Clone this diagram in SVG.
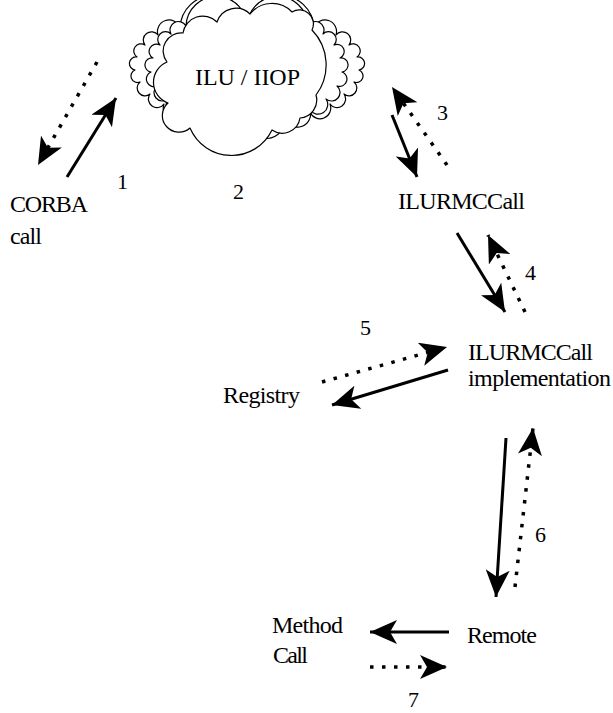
<svg xmlns="http://www.w3.org/2000/svg" width="613" height="713" viewBox="0 0 613 713">
<style>
.lbl{font-size:24px}
.num{font-size:22px}
.cl{fill:#fff;stroke:#000;stroke-width:1.2;stroke-linejoin:round}
.sol{stroke:#000;stroke-width:3;fill:none;marker-end:url(#ah)}
.dot{stroke:#000;stroke-width:3.5;fill:none;stroke-dasharray:3.5 8.5;marker-end:url(#ah)}
</style>
<defs>
<marker id="ah" viewBox="0 0 28 24" refX="27" refY="12" markerWidth="28" markerHeight="24" markerUnits="userSpaceOnUse" orient="auto">
<path d="M0,0 L27,12 L0,24 L7,12 Z" fill="#000"/>
</marker>
</defs>
<rect width="613" height="713" fill="#fff"/>
<g font-family="'Liberation Serif', Tinos, 'Nimbus Roman', 'Nimbus Roman No9 L', FreeSerif, 'Noto Serif', 'DejaVu Serif', Times, serif" fill="#000">
<g id="cloud">
<path class="cl" d="M359,70 A1 1 0 0 1 354,82 A1 1 0 0 1 344,94 A1 1 0 0 1 330,104 A1 1 0 0 1 310,112 A1 1 0 0 1 285,116 A1 1 0 0 1 247,118 A1 1 0 0 1 209,116 A1 1 0 0 1 184,112 A1 1 0 0 1 164,104 A1 1 0 0 1 150,94 A1 1 0 0 1 140,82 A1 1 0 0 1 135,70 A1 1 0 0 1 137,57 A1 1 0 0 1 145,45 A1 1 0 0 1 158,35 A1 1 0 0 1 180,28 A1 1 0 0 1 247,30 A1 1 0 0 1 314,28 A1 1 0 0 1 336,35 A1 1 0 0 1 349,45 A1 1 0 0 1 357,57 A1 1 0 0 1 359,70 Z"/>
<path class="cl" d="M342,72 A1 1 0 0 1 337,86 A1 1 0 0 1 326,99 A1 1 0 0 1 310,110 A1 1 0 0 1 285,118 A1 1 0 0 1 247,121 A1 1 0 0 1 209,118 A1 1 0 0 1 184,110 A1 1 0 0 1 168,99 A1 1 0 0 1 157,86 A1 1 0 0 1 151,72 A1 1 0 0 1 153,58 A1 1 0 0 1 160,45 A1 1 0 0 1 171,34 A1 1 0 0 1 186,26 A1 1 0 0 1 247,28 A1 1 0 0 1 308,26 A1 1 0 0 1 323,34 A1 1 0 0 1 334,45 A1 1 0 0 1 340,58 A1 1 0 0 1 342,72 Z"/>
<path class="cl" d="M183,33 A20 20 0 0 1 217,22 A20 20 0 0 1 250,14 A28 28 0 0 1 292,12 A14 14 0 0 1 312,30 A50 50 0 0 1 316,95 A18 18 0 0 1 300,118 A18 18 0 0 1 272,130 A45 45 0 0 1 190,128 A16 16 0 0 1 168,103 A22 22 0 0 1 167,62 A18 18 0 0 1 183,33 Z"/>
<text class="lbl" x="195" y="85" textLength="105">ILU / IIOP</text>
</g>
<g id="corba">
<text class="lbl" x="10" y="212" textLength="78">CORBA</text>
<text class="lbl" x="10" y="244" textLength="32">call</text>
</g>
<g id="ilurmccall">
<text class="lbl" x="398" y="209" textLength="127">ILURMCCall</text>
</g>
<g id="impl">
<text class="lbl" x="468" y="360" textLength="125">ILURMCCall</text>
<text class="lbl" x="468" y="386" textLength="143">implementation</text>
</g>
<g id="registry">
<text class="lbl" x="223" y="403" textLength="77">Registry</text>
</g>
<g id="remote">
<text class="lbl" x="467" y="643" textLength="70">Remote</text>
</g>
<g id="method">
<text class="lbl" x="272" y="633" textLength="71">Method</text>
<text class="lbl" x="273" y="663" textLength="35">Call</text>
</g>
<g id="connectors">
<line class="dot" x1="97" y1="62" x2="38" y2="165"/>
<line class="sol" x1="67" y1="177" x2="116" y2="98"/>
<line class="sol" x1="392" y1="115" x2="417" y2="177"/>
<line class="dot" x1="447" y1="165" x2="392" y2="87"/>
<line class="sol" x1="457" y1="233" x2="505" y2="312"/>
<line class="dot" x1="525" y1="312" x2="488" y2="235"/>
<line class="dot" x1="322" y1="382" x2="447" y2="347"/>
<line class="sol" x1="448" y1="370" x2="332" y2="405"/>
<line class="sol" x1="506" y1="438" x2="496" y2="597"/>
<line class="dot" x1="515" y1="587" x2="533" y2="428"/>
<line class="sol" x1="449" y1="632" x2="370" y2="632"/>
<line class="dot" x1="370" y1="667" x2="447" y2="667"/>
<text class="num" x="117" y="189">1</text>
<text class="num" x="233" y="199">2</text>
<text class="num" x="437" y="120">3</text>
<text class="num" x="525" y="280">4</text>
<text class="num" x="360" y="335">5</text>
<text class="num" x="535" y="542">6</text>
<text class="num" x="408" y="707">7</text>
</g>
</g>
</svg>
